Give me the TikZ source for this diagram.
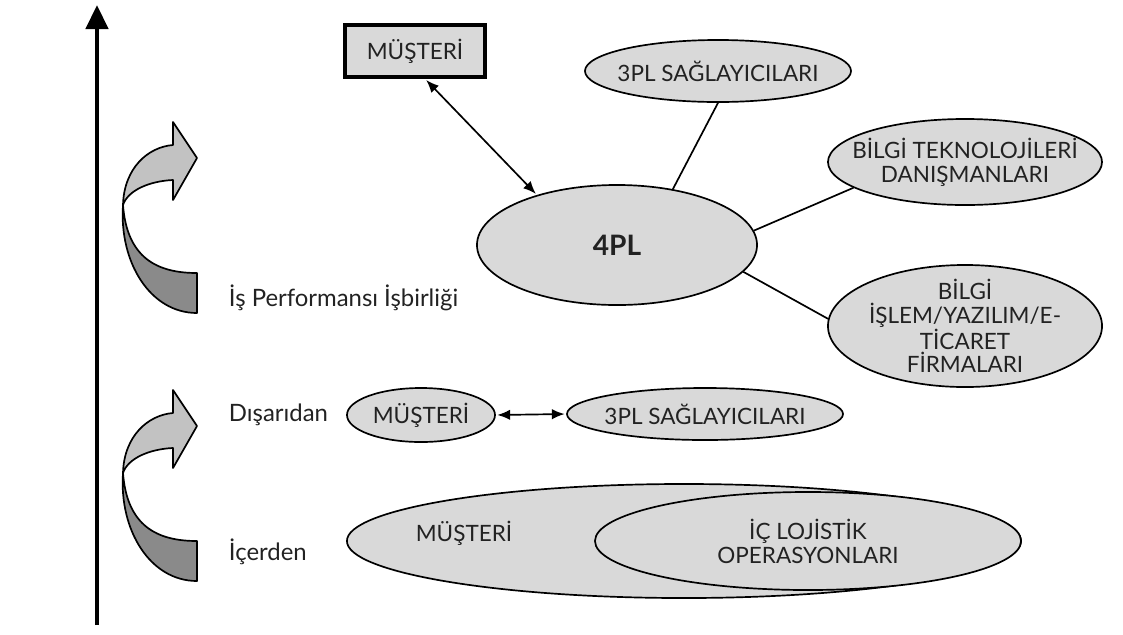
\documentclass[tikz,border=0pt]{standalone}
\usepackage{fontspec}
\setmainfont{Lato}
\usetikzlibrary{arrows.meta,shapes.geometric}
\definecolor{ovalfill}{HTML}{D9D9D9}
\definecolor{ribbonlight}{HTML}{C2C2C2}
\definecolor{ribbondark}{HTML}{8A8A8A}
\definecolor{textgray}{HTML}{222222}
\begin{document}
\begin{tikzpicture}[x=0.025cm, y=-0.025cm,
  oval/.style={ellipse, draw, line width=1.2pt, fill=ovalfill, inner sep=0pt},
  lbl/.style={font=\fontsize{16}{17}\selectfont, text=textgray, align=center},
  side/.style={lbl, font=\fontsize{17}{19}\selectfont, anchor=west},
  link/.style={line width=1.2pt},
  twoway/.style={{Latex[length=3.2mm,width=2.6mm]}-{Latex[length=3.2mm,width=2.6mm]}, line width=1.2pt, shorten <=1pt, shorten >=1pt},
  ribbon/.style={draw, line width=1.2pt, line join=round}
]
  \useasboundingbox (0,0) rectangle (1123,634);

  % vertical axis
  \coordinate (axb) at (97,625);
  \coordinate (axt) at (97,5);
  \draw[line width=3.2pt, -{Triangle[length=0.6cm,width=0.55cm]}] (axb) -- (axt);

  % curved arrows
  \foreach \dy in {0,268} {
    \begin{scope}[shift={(0,\dy)}]
      \filldraw[ribbon, fill=ribbondark] (123,205) .. controls (119,262) and (150,313) .. (197,313)
        -- (197,273) .. controls (157,273) and (127,258) .. (123,205) -- cycle;
      \filldraw[ribbon, fill=ribbonlight] (123,205) .. controls (124,168) and (148,147) .. (173,145)
        -- (173,122) -- (197,158) -- (173,200) -- (173,180)
        .. controls (150,181) and (128,190) .. (123,205) -- cycle;
    \end{scope}
  }

  % side labels
  \node[side] (perf) at (224,298) {İş Performansı İşbirliği};
  \node[side] (dis) at (224,415) {Dışarıdan};
  \node[side] (ic) at (224,552) {İçerden};

  % upper level
  \node[draw, line width=2.8pt, fill=ovalfill, minimum width=3.5cm, minimum height=1.3cm, lbl] (tm) at (415,51) {MÜŞTERİ};
  \node[oval, minimum width=6.65cm, minimum height=1.55cm, label={[lbl]center:3PL SAĞLAYICILARI}] (tpl) at (718,71) {};
  \node[oval, minimum width=6.85cm, minimum height=2.15cm, label={[lbl]center:{BİLGİ TEKNOLOJİLERİ\\DANIŞMANLARI}}] (bt) at (965,162) {};
  \node[oval, minimum width=7cm, minimum height=3cm, label={[lbl, font=\fontsize{20}{22}\selectfont\bfseries]center:4PL}] (fpl) at (617,245) {};
  \node[oval, minimum width=6.85cm, minimum height=3.05cm, label={[lbl]center:{BİLGİ\\İŞLEM/YAZILIM/E-\\TİCARET\\FİRMALARI}}] (bi) at (965,326) {};

  \draw[twoway] (tm.-70) -- (fpl.148);
  \draw[link] (tpl.-90) -- (fpl.45);
  \draw[link] (fpl.6) -- (bt.193);
  \draw[link] (fpl.-12) -- (bi.177);

  % outside level
  \node[oval, minimum width=3.7cm, minimum height=1.35cm, label={[lbl]center:MÜŞTERİ}] (lm) at (421,415) {};
  \node[oval, minimum width=6.9cm, minimum height=1.3cm, label={[lbl]center:3PL SAĞLAYICILARI}] (lt) at (705,414) {};
  \draw[twoway] (lm.east) -- (lt.west);

  % inside level
  \node[oval, minimum width=16.85cm, minimum height=2.85cm] (big) at (684,541) {};
  \node[lbl] (bigt) at (464,533) {MÜŞTERİ};
  \node[oval, minimum width=10.65cm, minimum height=2.45cm, label={[lbl]center:{İÇ LOJİSTİK\\OPERASYONLARI}}] (ops) at (808,541) {};
\end{tikzpicture}
\end{document}
